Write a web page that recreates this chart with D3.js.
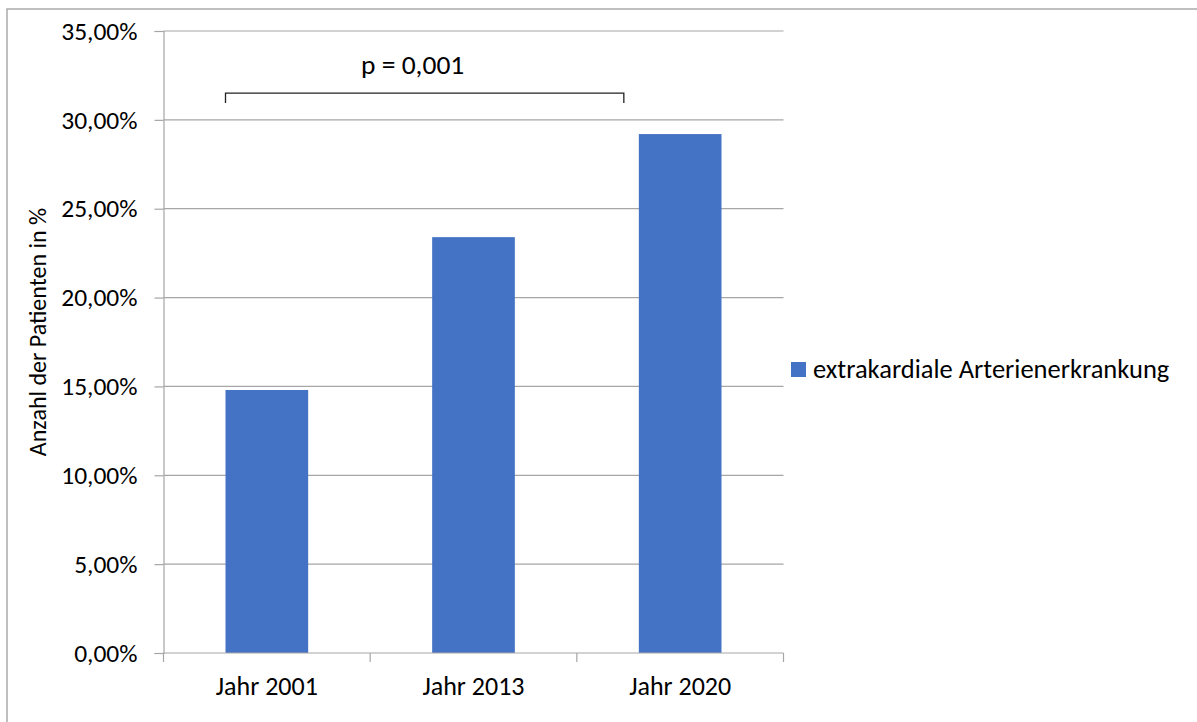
<!DOCTYPE html>
<html><head><meta charset="utf-8">
<script src="https://cdn.jsdelivr.net/npm/d3@7"></script>
<style>body{margin:0;background:#fff}svg text{font-family:Carlito,Calibri,Lato,"Open Sans",sans-serif;fill:#000}</style>
</head><body>
<svg id="c" width="1197" height="722"></svg>
<script>
const categories = ["Jahr 2001", "Jahr 2013", "Jahr 2020"];
const values = [0.1480, 0.2340, 0.2920];
const seriesName = "extrakardiale Arterienerkrankung";
const yTicks = [0, 0.05, 0.10, 0.15, 0.20, 0.25, 0.30, 0.35];
const pLabel = "p = 0,001";

const svg = d3.select("#c");
const m = {l:163.5, r:783.5, t:31, b:653};

svg.append("rect").attr("x",7).attr("y",9).attr("width",1200).attr("height",730)
  .attr("fill","none").attr("stroke","#aaa").attr("stroke-width",1.5);

const x = d3.scaleBand().domain(categories).range([m.l, m.r]).paddingInner(0.6).paddingOuter(0.3);
const y = d3.scaleLinear().domain([0,0.35]).range([m.b, m.t]);
const fmt = v => d3.format(".2f")(v*100).replace(".", ",") + "%";

// gridlines
svg.append("g").selectAll("line").data(yTicks.slice(1)).join("line")
  .attr("x1", m.l).attr("x2", m.r).attr("y1", d=>y(d)).attr("y2", d=>y(d))
  .attr("stroke","#a6a6a6").attr("stroke-width",1.2);

// bars
svg.append("g").selectAll("rect").data(values).join("rect")
  .attr("x",(d,i)=>x(categories[i])).attr("width",x.bandwidth())
  .attr("y",d=>y(d)).attr("height",d=>y(0)-y(d)).attr("fill","#4472c4");

// y axis
const ya = svg.append("g").attr("transform",`translate(${m.l},0)`)
  .call(d3.axisLeft(y).tickValues(yTicks).tickFormat(fmt).tickSize(9).tickPadding(17));
ya.attr("font-size",null).attr("font-family",null);
ya.select(".domain").attr("stroke","#a6a6a6").attr("stroke-width",1.2);
ya.selectAll(".tick line").attr("stroke","#a6a6a6").attr("stroke-width",1.2);
ya.selectAll("text").attr("font-size",25.5).attr("fill","#000");

// x axis
const step = x.step();
const xa = svg.append("g").attr("transform",`translate(0,${m.b})`)
  .call(d3.axisBottom(x).tickSize(0).tickPadding(24));
xa.attr("font-size",null).attr("font-family",null);
xa.select(".domain").remove();
xa.selectAll("text").attr("font-size",26).attr("fill","#000").attr("dy",null).attr("y",42);
svg.append("line").attr("x1",m.l).attr("x2",m.r).attr("y1",m.b).attr("y2",m.b)
  .attr("stroke","#a6a6a6").attr("stroke-width",1.2);
const bounds = [m.l].concat(categories.map(c=>x(c)-x.paddingInner()*step/2 + step));
svg.append("g").selectAll("line").data(bounds).join("line")
  .attr("x1",d=>d).attr("x2",d=>d).attr("y1",m.b).attr("y2",m.b+9)
  .attr("stroke","#a6a6a6").attr("stroke-width",1.2);

// y label
svg.append("text").attr("transform",`translate(46,${(m.t+m.b)/2 - 10}) rotate(-90)`)
  .attr("text-anchor","middle").attr("font-size",24).text("Anzahl der Patienten in %");

// bracket
const bx1 = x(categories[0]), bx2 = x(categories[2]) - 15;
svg.append("path").attr("d",`M${bx1},${y(0.3095)} V${y(0.3150)} H${bx2} V${y(0.3095)}`)
  .attr("fill","none").attr("stroke","#222").attr("stroke-width",1.3);
svg.append("text").attr("x",(bx1+bx2)/2-12).attr("y",74).attr("text-anchor","middle")
  .attr("font-size",27.5).text(pLabel);

// legend
svg.append("rect").attr("x",791).attr("y",362).attr("width",15).attr("height",15).attr("fill","#4472c4");
svg.append("text").attr("x",813).attr("y",378).attr("font-size",26.5).text(seriesName);
</script>
</body></html>
